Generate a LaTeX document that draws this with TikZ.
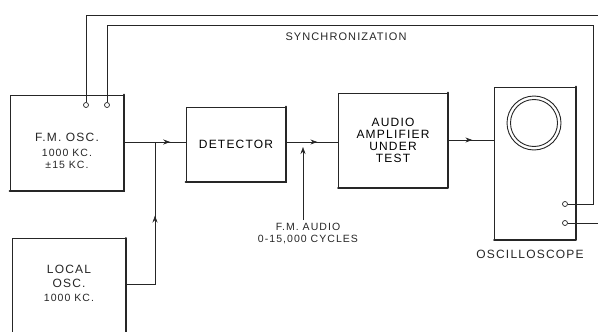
\documentclass[tikz,border=0pt]{standalone}
\usepackage{fontspec}
\setmainfont{Liberation Sans}[LetterSpace=10]
\usetikzlibrary{arrows.meta,decorations.markings,positioning}

\newcommand\blockfont{\fontsize{12}{14}\selectfont}
\newcommand\notefont{\fontsize{10.5}{13}\selectfont}

\tikzset{
  box/.style={draw=black!85, fill=white, line width=0.9pt, inner sep=0pt},
  heavy/.style={draw=black!85, line width=2pt, line cap=round, line join=round},
  wire/.style={draw=black!85, line width=0.8pt},
  midarrow/.style={postaction={decorate}, decoration={markings,
    mark=at position #1 with {\arrow{Stealth[length=7pt,width=5pt]}}}},
  midarrow/.default=0.5,
  term/.style={circle, draw=black!85, fill=white, line width=0.7pt, inner sep=0pt, minimum size=5pt},
  txt/.style={align=center, text=black!85}
}

\begin{document}
\begin{tikzpicture}[x=1pt, y=-1pt, >={Stealth[length=7pt,width=5pt]}]
  \useasboundingbox (0,0) rectangle (598,332);
  \clip (0,0) rectangle (598,332);
  % blocks
  \node[box, minimum width=114pt, minimum height=96pt] (fmosc) at (67,143) {};
  \node[txt] (fmtext) at (67,151) {\blockfont F.M. OSC.\\[3pt]\notefont 1000 KC.\\\notefont ±15 KC.};
  \node[box, minimum width=114pt, minimum height=100pt, anchor=north] (local) at (69,238) {};
  \node[txt] (localtext) at (69,283) {\blockfont LOCAL\\[2pt]\blockfont OSC.\\[2pt]\notefont 1000 KC.};
  \node[box, minimum width=100pt, minimum height=75pt] (det) at (236,144.5) {\blockfont DETECTOR};
  \node[box, minimum width=109pt, minimum height=95pt, align=center] (amp) at (393,140.5)
    {\blockfont AUDIO\\\blockfont AMPLIFIER\\\blockfont UNDER\\\blockfont TEST};
  \node[box, minimum width=81pt, minimum height=153pt] (scope) at (535,163.5) {};
  \node[txt] (scopetext) at (530,254) {\blockfont OSCILLOSCOPE};
  \draw[line width=0.9pt, black!85] (534,123) circle (27pt) (534,123) circle (23.5pt);
  % heavy right and bottom edges
  \foreach \b in {fmosc,local,det,amp,scope}
    \draw[heavy] (\b.north east) -- (\b.south east) -- (\b.south west);

  % terminals
  \node[term] (fa) at (86,105) {};
  \node[term] (fb) at (107,105) {};
  \node[term] (sa) at (565,204) {};
  \node[term] (sb) at (565,223) {};

  % sync loop
  \coordinate (outer) at (599,15);
  \coordinate (inner) at (593,25);
  \draw[wire] (fa.north) |- (outer) |- (sb.east);
  \draw[wire] (fb.north) |- (inner) |- (sa.east);
  \node[txt] (sync) at (346,37) {\fontsize{11}{13}\selectfont SYNCHRONIZATION};

  % signal path
  \coordinate (mix) at (155,142);
  \coordinate (tap) at (303,142);
  \draw[wire] (fmosc.east |- mix) -- (mix);
  \draw[wire, midarrow] (mix) -- (mix -| det.west);
  \draw[wire, midarrow=0.57] ([yshift=4pt]local.east) -| (mix);
  \draw[wire, midarrow=0.6] (det.east |- tap) -- (amp.west |- tap);
  \draw[wire, midarrow=0.53] ([yshift=0.5pt]amp.east) -- ([yshift=0.5pt]amp.east -| scope.west);

  % pointer
  \node[txt] (fmaudio) at (308,234) {\notefont F.M. AUDIO\\\notefont 0-15,000 CYCLES};
  \draw[wire, line width=0.6pt, ->, shorten >=5pt] (fmaudio.north -| tap) -- (tap);
\end{tikzpicture}
\end{document}
